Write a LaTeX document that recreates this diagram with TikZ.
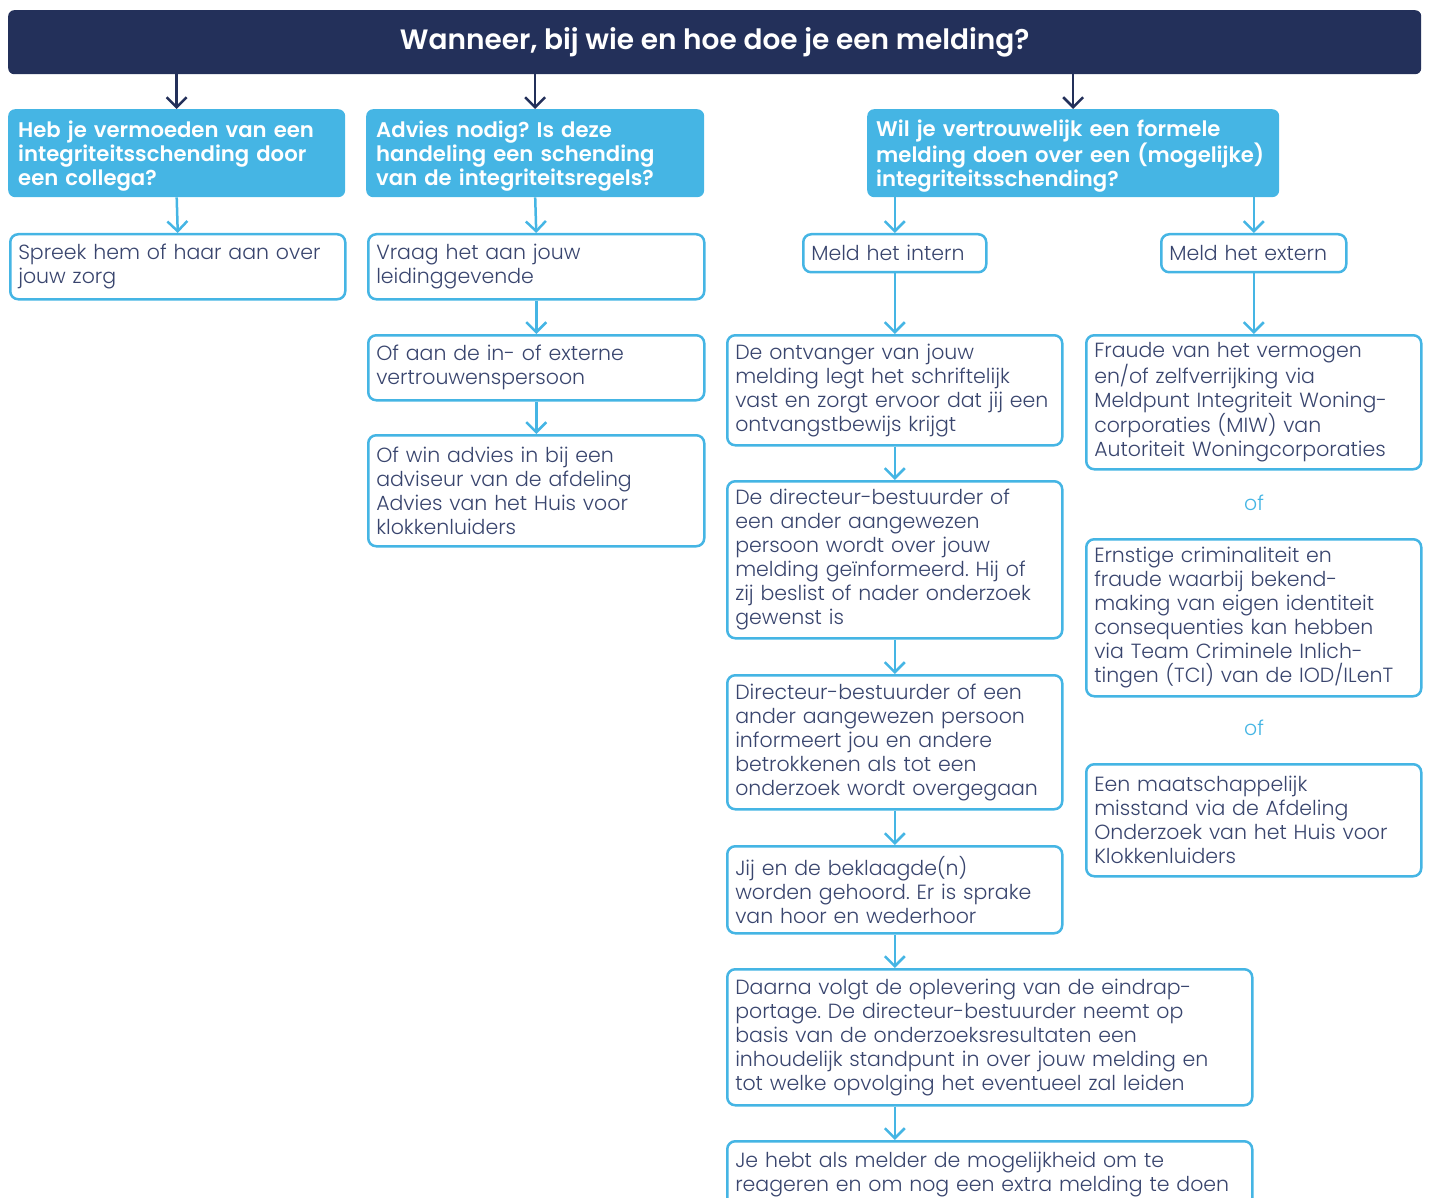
\documentclass[tikz,border=0pt]{standalone}
\usepackage{fontspec}
\setmainfont{Poppins}[UprightFont=* Light, BoldFont=* SemiBold]
\usetikzlibrary{arrows.meta}
\definecolor{navy}{HTML}{23305A}
\definecolor{sky}{HTML}{45B5E4}
\definecolor{ink}{HTML}{39456E}
\frenchspacing
\lineskiplimit=-100pt
\newcommand\hstrut{\rule{0pt}{22pt}}
\begin{document}
\begin{tikzpicture}[x=1pt,y=-1pt,
  box/.style={draw=sky, line width=2.5pt, rounded corners=8pt, fill=white, anchor=north west, align=left, inner xsep=8pt, inner ysep=0pt, text=ink, font=\fontsize{20.5}{24}\selectfont},
  hdr/.style={fill=sky, rounded corners=7pt, anchor=north west, align=left, inner xsep=10pt, inner ysep=0pt, text=white, font=\bfseries\fontsize{21.2}{24}\selectfont},
  arrN/.style={draw=navy, line width=2.5pt, -{Straight Barb[length=10pt,width=20pt,line width=2.5pt]}},
  arrB/.style={draw=sky, line width=2.5pt, -{Straight Barb[length=10pt,width=20pt,line width=2.5pt]}},
  ortext/.style={text=sky, font=\fontsize{20.5}{24}\selectfont}]
\useasboundingbox (0,0) rectangle (1429,1198);
\node[fill=navy, rounded corners=6pt, anchor=north west, minimum width=1413pt, minimum height=64pt, inner sep=0pt, text=white, font=\bfseries\fontsize{28}{32}\selectfont] (title) at (8,10) {Wanneer, bij wie en hoe doe je een melding?};
% headers
\node[hdr, text width=317pt, minimum height=88pt] (h1) at (8,109) {\hstrut Heb je vermoeden van een\\integriteitsschending door\\een collega?};
\node[hdr, text width=318pt, minimum height=88pt] (h2) at (366,109) {\hstrut Advies nodig? Is deze\\handeling een schending\\van de integriteitsregels?};
\node[hdr, text width=394pt, minimum height=88pt, inner xsep=9pt] (h3) at (867,109) {\hstrut Wil je vertrouwelijk een formele\\melding doen over een (mogelijke)\\integriteitsschending?};
% column 1
\node[box, text width=319pt, minimum height=65pt] (a1) at (9,233) {Spreek hem of haar aan over\\jouw zorg};
% column 2
\node[box, text width=320pt, minimum height=65pt] (b1) at (367,233) {Vraag het aan jouw\\leidinggevende};
\node[box, text width=320pt, minimum height=65pt] (b2) at (367,334) {Of aan de in- of externe\\vertrouwenspersoon};
\node[box, text width=320pt, minimum height=111pt] (b3) at (367,434) {Of win advies in bij een\\adviseur van de afdeling\\Advies van het Huis voor\\klokkenluiders};
% intern
\node[box, text width=167pt, minimum height=38pt] (c0) at (802,233) {Meld het intern};
\node[box, text width=319pt, minimum height=110pt] (c1) at (726,334) {De ontvanger van jouw\\melding legt het schriftelijk\\vast en zorgt ervoor dat jij een\\ontvangstbewijs krijgt};
\node[box, text width=319pt, minimum height=157pt] (c2) at (726,480) {De directeur-bestuurder of\\een ander aangewezen\\persoon wordt over jouw\\melding geïnformeerd. Hij of\\zij beslist of nader onderzoek\\gewenst is};
\node[box, text width=319pt, minimum height=134pt] (c3) at (726,674) {Directeur-bestuurder of een\\ander aangewezen persoon\\informeert jou en andere\\betrokkenen als tot een\\onderzoek wordt overgegaan};
\node[box, text width=319pt, minimum height=87pt] (c4) at (726,845) {Jij en de beklaagde(n)\\worden gehoord. Er is sprake\\van hoor en wederhoor};
\node[box, text width=509pt, minimum height=136pt] (c5) at (726,968) {Daarna volgt de oplevering van de eindrap-\\portage. De directeur-bestuurder neemt op\\basis van de onderzoeksresultaten een\\inhoudelijk standpunt in over jouw melding en\\tot welke opvolging het eventueel zal leiden};
\node[box, text width=509pt, minimum height=66pt] (c6) at (726,1140) {Je hebt als melder de mogelijkheid om te\\reageren en om nog een extra melding te doen};
% extern
\node[box, text width=169pt, minimum height=38pt] (d0) at (1160,233) {Meld het extern};
\node[box, text width=319pt, minimum height=134pt] (d1) at (1085,334) {Fraude van het vermogen\\en/of zelfverrijking via\\Meldpunt Integriteit Woning-\\corporaties (MIW) van\\Autoriteit Woningcorporaties};
\node[ortext] (of1) at (1254,503) {of};
\node[box, text width=319pt, minimum height=157pt] (d2) at (1085,538) {Ernstige criminaliteit en\\fraude waarbij bekend-\\making van eigen identiteit\\consequenties kan hebben\\via Team Criminele Inlich-\\tingen (TCI) van de IOD/ILenT};
\node[ortext] (of2) at (1254,728) {of};
\node[box, text width=319pt, minimum height=112pt] (d3) at (1085,763) {Een maatschappelijk\\misstand via de Afdeling\\Onderzoek van het Huis voor\\Klokkenluiders};
% arrows
\draw[arrN] (h1.north |- title.south) -- (h1.north);
\draw[arrN] (h2.north |- title.south) -- (h2.north);
\draw[arrN] (h3.north |- title.south) -- (h3.north);
\draw[arrB] (h1.south) -- (a1.north);
\draw[arrB] (h2.south) -- (b1.north);
\draw[arrB] (b1.south) -- (b2.north);
\draw[arrB] (b2.south) -- (b3.north);
\draw[arrB] (c0.north |- h3.south) -- (c0.north);
\draw[arrB] (d0.north |- h3.south) -- (d0.north);
\draw[arrB] (c0.south) -- (c0.south |- c1.north);
\draw[arrB] (c1.south) -- (c2.north);
\draw[arrB] (c2.south) -- (c3.north);
\draw[arrB] (c3.south) -- (c4.north);
\draw[arrB] (c4.south) -- (c4.south |- c5.north);
\draw[arrB] (c4.south |- c5.south) -- (c4.south |- c6.north);
\draw[arrB] (d0.south) -- (d0.south |- d1.north);
\end{tikzpicture}
\end{document}
